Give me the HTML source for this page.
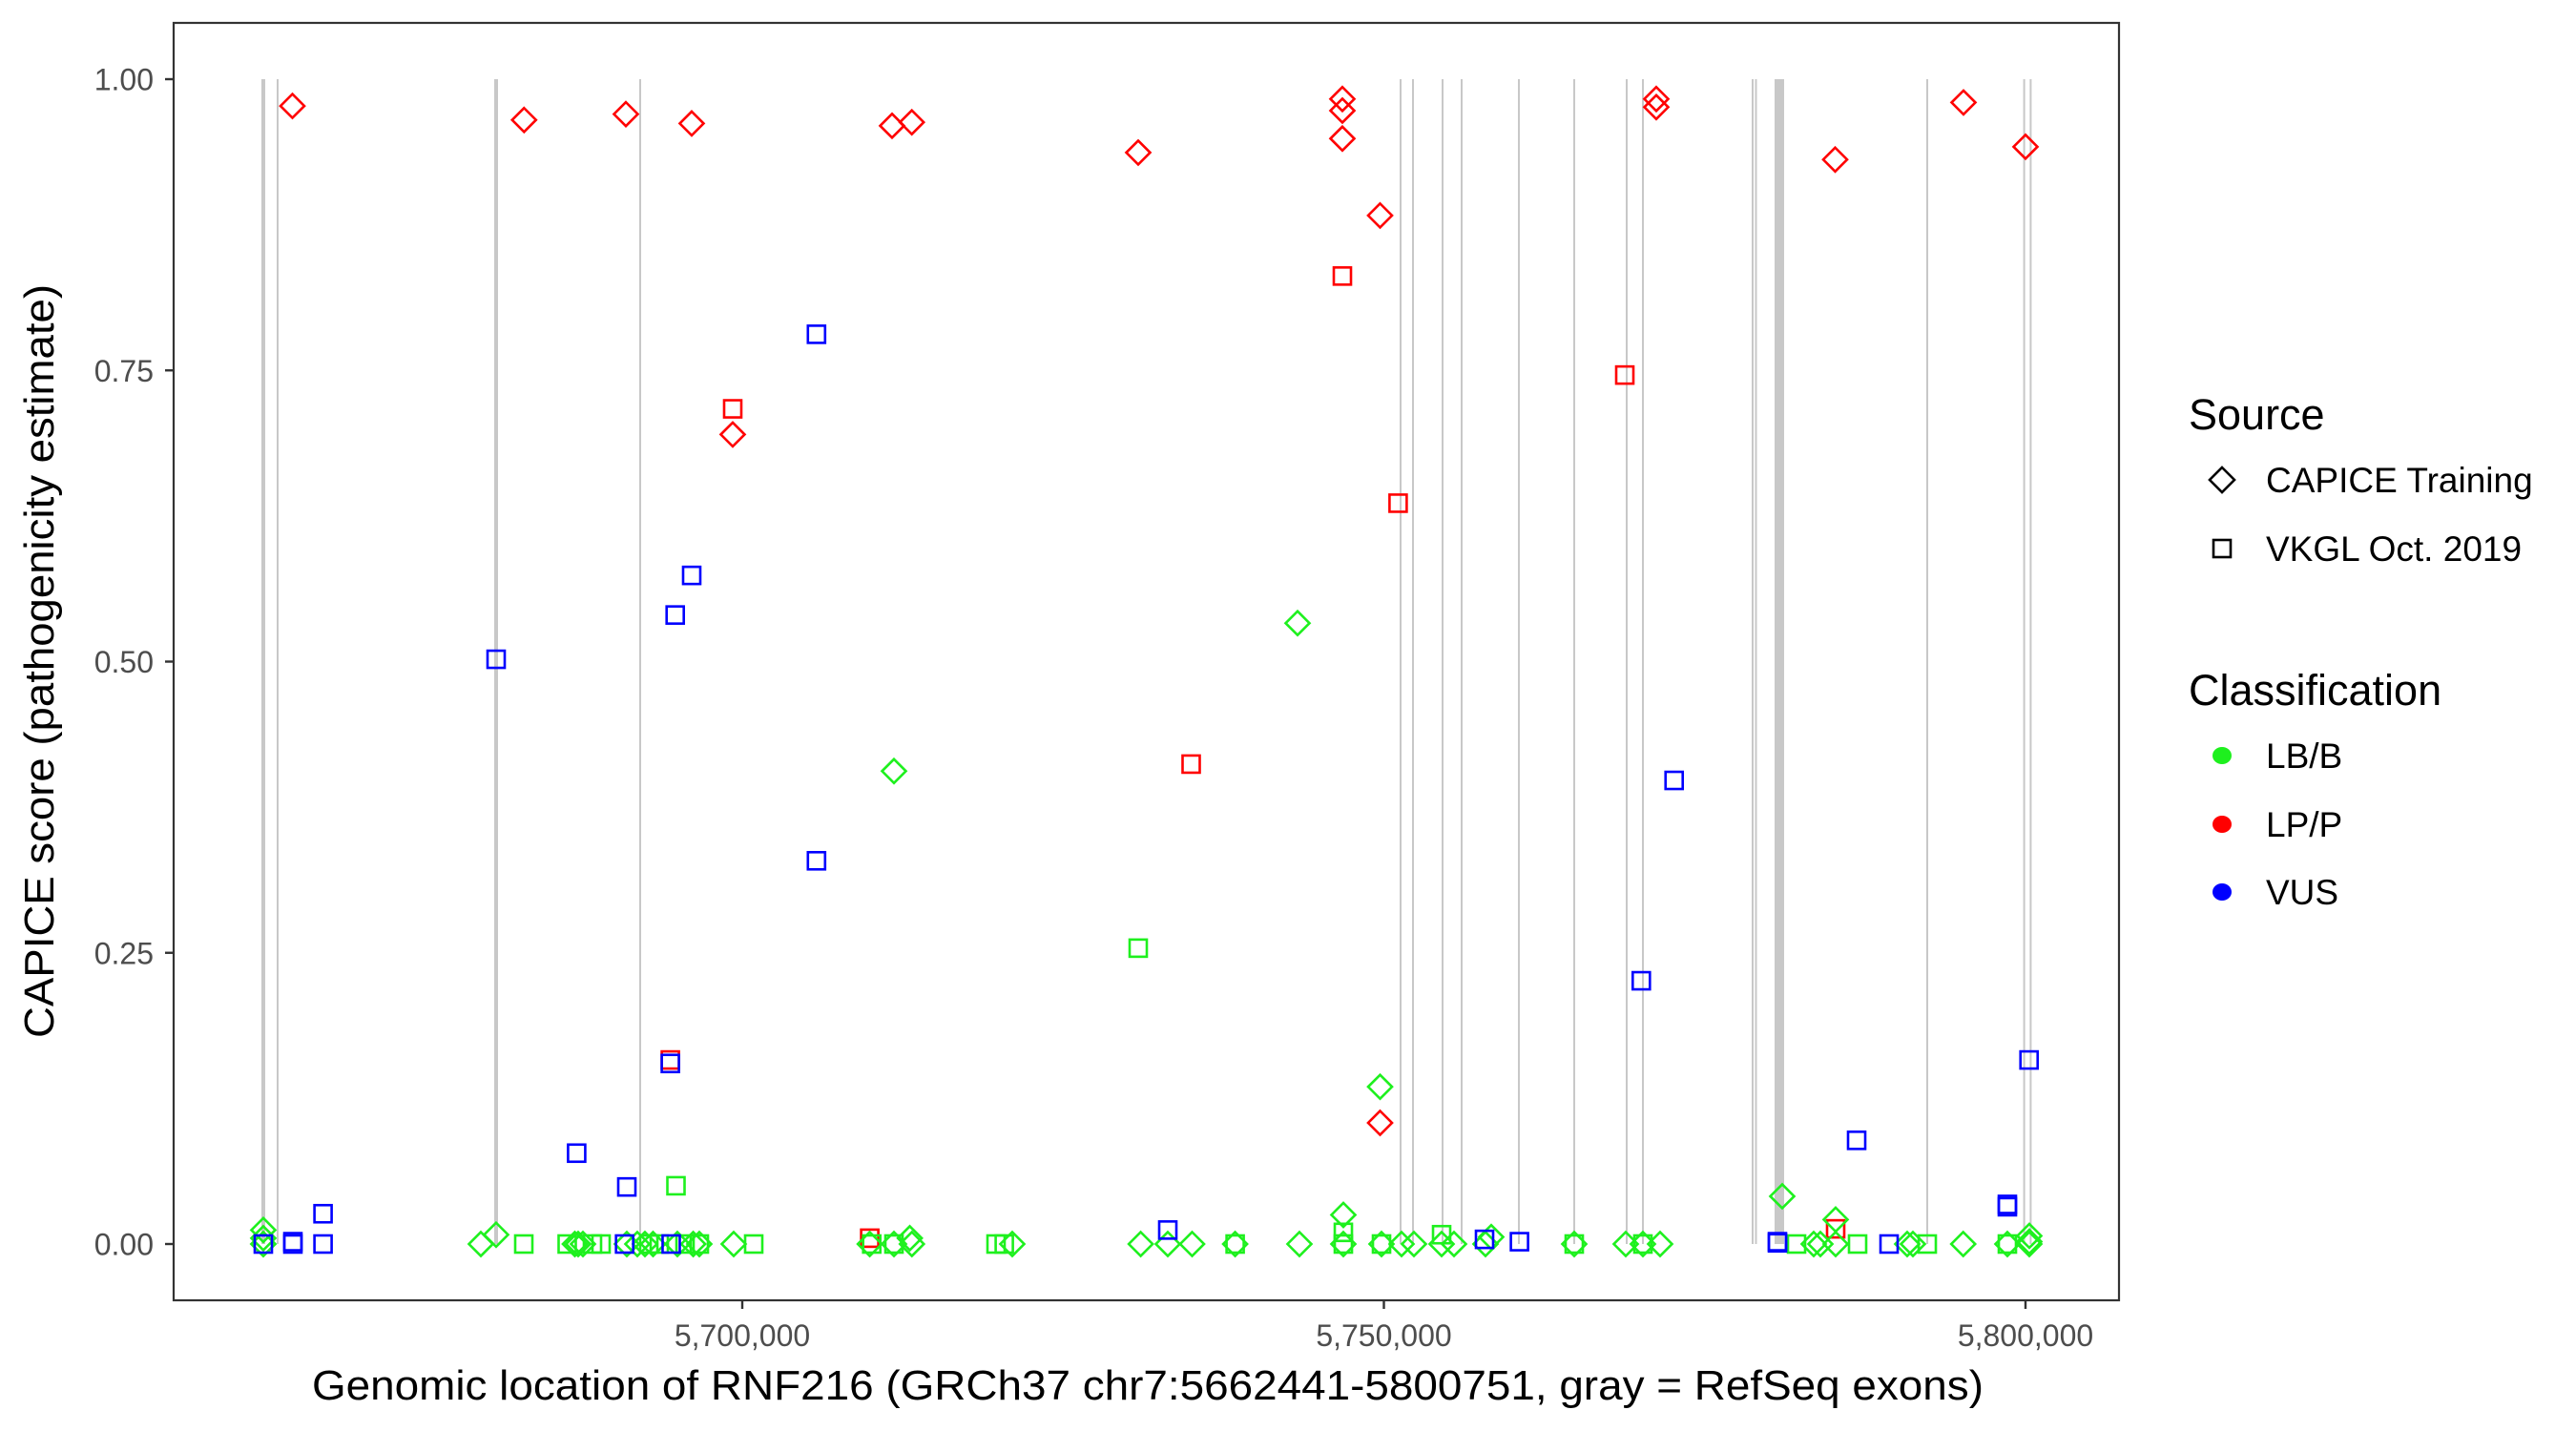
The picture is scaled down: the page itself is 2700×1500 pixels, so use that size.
<!DOCTYPE html>
<html><head><meta charset="utf-8"><style>
html,body{margin:0;padding:0;background:#fff;}
svg{display:block;font-family:"Liberation Sans",Arial,sans-serif;}
</style></head><body>
<svg id="chart" width="2700" height="1500" viewBox="0 0 2700 1500" xmlns="http://www.w3.org/2000/svg">
<rect x="0" y="0" width="2700" height="1500" fill="#fff"/>
<g id="exons"></g>
<g id="points"></g>
<rect x="182" y="24" width="2039" height="1339" fill="none" stroke="#333" stroke-width="2.2"/>
<g id="yaxis"></g>
<g id="xaxis"></g>
<text x="1203" y="1467" text-anchor="middle" font-size="44" textLength="1752" lengthAdjust="spacingAndGlyphs" fill="#000">Genomic location of RNF216 (GRCh37 chr7:5662441-5800751, gray = RefSeq exons)</text>
<text transform="translate(56,693) rotate(-90)" text-anchor="middle" font-size="44" textLength="790" lengthAdjust="spacingAndGlyphs" fill="#000">CAPICE score (pathogenicity estimate)</text>
<g>
<text x="2294" y="450" font-size="45" fill="#000">Source</text>
<path d="M2329,490 L2342,503 L2329,516 L2316,503 Z" fill="none" stroke="#000" stroke-width="2.6"/>
<text x="2375" y="516" font-size="37" fill="#000">CAPICE Training</text>
<rect x="2320" y="566" width="18" height="18" fill="none" stroke="#000" stroke-width="2.6"/>
<text x="2375" y="588" font-size="37" fill="#000">VKGL Oct. 2019</text>
</g>
<g>
<text x="2294" y="739" font-size="45" fill="#000">Classification</text>
<ellipse cx="2329" cy="792" rx="10" ry="9" fill="#1ef01e"/>
<text x="2375" y="805" font-size="37" fill="#000">LB/B</text>
<ellipse cx="2329" cy="864" rx="10" ry="9" fill="#ff0000"/>
<text x="2375" y="877" font-size="37" fill="#000">LP/P</text>
<ellipse cx="2329" cy="935" rx="10" ry="9" fill="#0000ff"/>
<text x="2375" y="948" font-size="37" fill="#000">VUS</text>
</g>
</svg>
<script>
const yTicks = [0, 0.25, 0.5, 0.75, 1];
const yTickLabels = ["0.00", "0.25", "0.50", "0.75", "1.00"];
const xTicks = [5700000, 5750000, 5800000];
const xTickLabels = ["5,700,000", "5,750,000", "5,800,000"];
const exonStarts = [5662527,5663717,5680669,5691970,5751227,5752193,5754499,5755986,5760446,5764759,5768848,5770112,5778662,5778922,5780447,5792268,5799822,5800327];
const exonEnds   = [5662825,5663866,5680967,5692119,5751376,5752342,5754648,5756135,5760595,5764908,5768997,5770261,5778811,5779034,5781190,5792417,5799971,5800476];

const lbCapicePos = [5662676,5662676,5662676,5662676,5679628,5680818,5686952,5687212,5687584,5691004,5691822,5692416,5693048,5694944,5696178,5696654,5699331,5709933,5711822,5713056,5713219,5721041,5731049,5733160,5735056,5738409,5743420,5746841,5746841,5749815,5751376,5752342,5754499,5755465,5757919,5758365,5764833,5768848,5770186,5771525,5781042,5783495,5784016,5785205,5785205,5790781,5791227,5795146,5798588,5800298,5800298,5800298,5711822,5743272,5749703];
const lbCapiceScore = [0.012,0.005,0,0,0,0.008,0,0,0,0,0,0,0,0,0,0,0,0,0,0.005,0,0,0,0,0,0,0,0.025,0,0,0,0,0,0,0,0.006,0,0,0,0,0.041,0,0,0.021,0,0,0,0,0,0.007,0.002,0,0.406,0.533,0.135];
const lbVkglPos = [5682974,5686357,5688327,5688996,5692714,5693532,5694833,5695539,5696654,5700892,5710089,5711822,5719777,5720417,5738409,5746841,5746841,5749815,5754499,5764833,5770186,5782157,5786915,5792343,5798588,5730855];
const lbVkglScore = [0,0,0,0,0,0,0.05,0,0,0,0,0,0,0,0,0.010,0,0,0.008,0,0,0,0,0,0,0.254];
const lpCapicePos = [5664944,5682996,5690929,5696059,5699256,5711673,5713212,5730855,5746766,5746766,5746766,5749703,5749703,5771227,5771227,5785168,5795168,5800000];
const lpCapiceScore = [0.977,0.965,0.970,0.962,0.695,0.960,0.963,0.937,0.983,0.973,0.949,0.883,0.104,0.983,0.976,0.931,0.980,0.942];
const lpVkglPos = [5699256,5694394,5734981,5746766,5751108,5768774,5709933,5785205];
const lpVkglScore = [0.717,0.158,0.412,0.831,0.636,0.746,0.005,0.013];
const vusVkglPos = [5662676,5664981,5664981,5667331,5667331,5680818,5687093,5691004,5690830,5694461,5694394,5694773,5696059,5705784,5705784,5733160,5757844,5760565,5770060,5772618,5780670,5780670,5786841,5789369,5798588,5798588,5800276];
const vusVkglScore = [0,0.002,0,0.026,0,0.502,0.078,0.049,0,0,0.155,0.540,0.574,0.781,0.329,0.012,0.004,0.002,0.226,0.398,0.002,0.001,0.089,0,0.034,0.032,0.158];

const NS = "http://www.w3.org/2000/svg";
function xScale(g){ return 778 + (g - 5700000) / 50000 * 672.5; }
function yScale(v){ return 1304 - v * 1221; }

const exG = document.getElementById("exons");
for (let i = 0; i < exonStarts.length; i++) {
  const x0 = xScale(exonStarts[i]), x1 = xScale(exonEnds[i]);
  const w = Math.max(x1 - x0, 2);
  const r = document.createElementNS(NS, "rect");
  r.setAttribute("x", x0); r.setAttribute("y", yScale(1));
  r.setAttribute("width", w); r.setAttribute("height", yScale(0) - yScale(1));
  r.setAttribute("fill", "#c8c8c8");
  
  
  exG.appendChild(r);
}

const ptG = document.getElementById("points");
function diamond(g, v, color, name){
  const cx = xScale(g), cy = yScale(v), h = 12.5;
  const p = document.createElementNS(NS, "path");
  p.setAttribute("d", `M${cx},${cy-h} L${cx+h},${cy} L${cx},${cy+h} L${cx-h},${cy} Z`);
  p.setAttribute("fill", "none"); p.setAttribute("stroke", color); p.setAttribute("stroke-width", "2.6");
  
  
  ptG.appendChild(p);
}
function square(g, v, color, name){
  const cx = xScale(g), cy = yScale(v), h = 9;
  const r = document.createElementNS(NS, "rect");
  r.setAttribute("x", cx - h); r.setAttribute("y", cy - h);
  r.setAttribute("width", 2*h); r.setAttribute("height", 2*h);
  r.setAttribute("fill", "none"); r.setAttribute("stroke", color); r.setAttribute("stroke-width", "2.6");
  
  
  ptG.appendChild(r);
}
lpVkglPos.forEach((g,i)=>square(g, lpVkglScore[i], "#ff0000", "lpp-vkgl-point"));
lbCapicePos.forEach((g,i)=>diamond(g, lbCapiceScore[i], "#1ef01e", "lbb-capice-point"));
lbVkglPos.forEach((g,i)=>square(g, lbVkglScore[i], "#1ef01e", "lbb-vkgl-point"));
lpCapicePos.forEach((g,i)=>diamond(g, lpCapiceScore[i], "#ff0000", "lpp-capice-point"));
vusVkglPos.forEach((g,i)=>square(g, vusVkglScore[i], "#0000ff", "vus-vkgl-point"));

const yA = document.getElementById("yaxis");
yTicks.forEach((v,i)=>{
  const y = yScale(v);
  const l = document.createElementNS(NS, "line");
  l.setAttribute("x1", 173); l.setAttribute("x2", 182); l.setAttribute("y1", y); l.setAttribute("y2", y);
  l.setAttribute("stroke", "#333"); l.setAttribute("stroke-width", "2.4");
  
  
  yA.appendChild(l);
  const t = document.createElementNS(NS, "text");
  t.setAttribute("x", 161); t.setAttribute("y", y + 11.5);
  t.setAttribute("text-anchor", "end"); t.setAttribute("font-size", "32"); t.setAttribute("fill", "#4d4d4d");
  t.textContent = yTickLabels[i];
  
  
  yA.appendChild(t);
});
const xA = document.getElementById("xaxis");
xTicks.forEach((g,i)=>{
  const x = xScale(g);
  const l = document.createElementNS(NS, "line");
  l.setAttribute("x1", x); l.setAttribute("x2", x); l.setAttribute("y1", 1363); l.setAttribute("y2", 1372);
  l.setAttribute("stroke", "#333"); l.setAttribute("stroke-width", "2.4");
  
  
  xA.appendChild(l);
  const t = document.createElementNS(NS, "text");
  t.setAttribute("x", x); t.setAttribute("y", 1411);
  t.setAttribute("text-anchor", "middle"); t.setAttribute("font-size", "32"); t.setAttribute("fill", "#4d4d4d");
  t.textContent = xTickLabels[i];
  
  
  xA.appendChild(t);
});
</script>
</body></html>
